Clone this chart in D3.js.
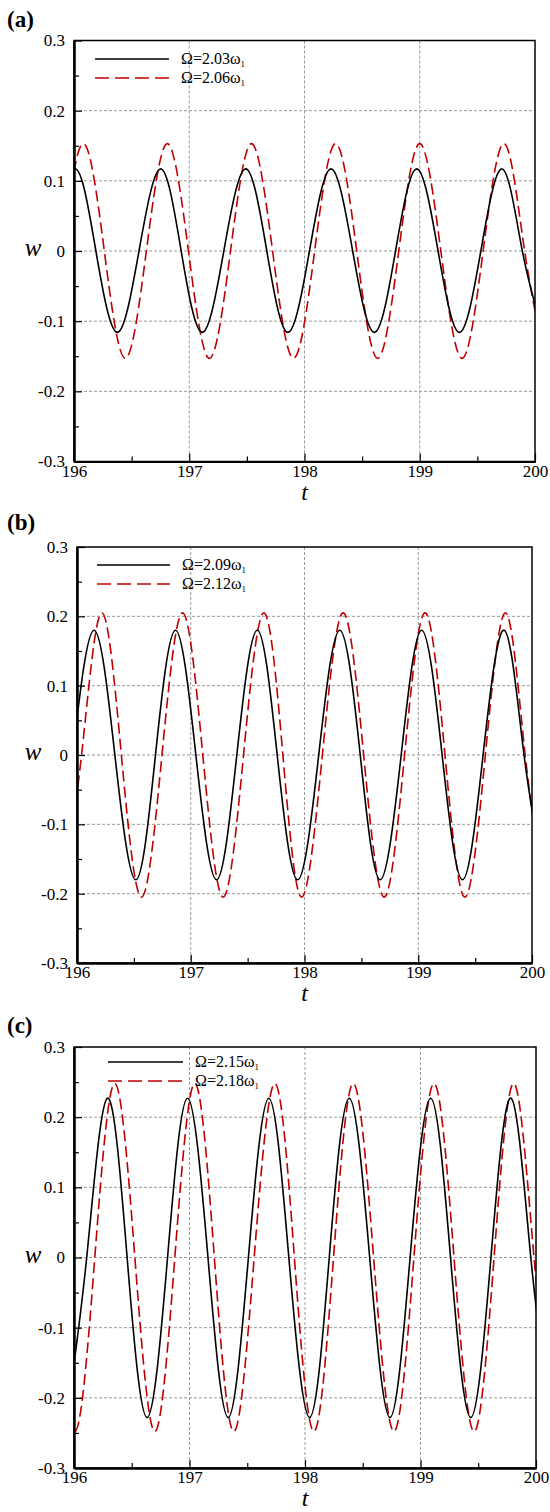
<!DOCTYPE html>
<html>
<head>
<meta charset="utf-8">
<script src="https://cdn.jsdelivr.net/npm/d3@7"></script>
<style>
  body { margin: 0; background: #fff; }
  svg { display: block; background: #fff; }
  text { font-family: 'Liberation Serif', 'Times New Roman', serif; fill: #000; }
</style>
</head>
<body>
<svg id="chart" width="550" height="1512"></svg>
<script>
'use strict';

// axis ticks shared by the three panels
const tTicks = [196, 197, 198, 199, 200];
const tMinor = [196.5, 197.5, 198.5, 199.5];
const wTicks = [-0.3, -0.2, -0.1, 0, 0.1, 0.2, 0.3];
const wMinor = [-0.25, -0.15, -0.05, 0.05, 0.15, 0.25];

// excitation frequencies (legend), solid then dashed
const omegaA = ['2.03', '2.06'];
const omegaB = ['2.09', '2.12'];
const omegaC = ['2.15', '2.18'];

// w(t): extrema and zero crossings, [t, w]
// (first and last point sit just outside 196..200, the frame clips them)
const blackA = [[195.826, 0], [196.011, 0.117], [196.19, 0], [196.376, -0.116], [196.564, 0], [196.752, 0.117],
  [196.93, 0], [197.113, -0.116], [197.30, 0], [197.49, 0.117], [197.673, 0], [197.856, -0.116],
  [198.043, 0], [198.23, 0.117], [198.418, 0], [198.606, -0.116], [198.79, 0], [198.974, 0.117],
  [199.159, 0], [199.344, -0.116], [199.53, 0], [199.716, 0.117], [199.89, 0], [200.07, -0.116]];
const redA = [[195.899, 0], [196.081, 0.153], [196.263, 0], [196.445, -0.153], [196.628, 0],
  [196.81, 0.153], [196.993, 0], [197.175, -0.153], [197.358, 0], [197.54, 0.153], [197.723, 0],
  [197.905, -0.153], [198.088, 0], [198.27, 0.153], [198.453, 0], [198.635, -0.153], [198.818, 0],
  [199.00, 0.153], [199.183, 0], [199.367, -0.153], [199.55, 0], [199.734, 0.153], [199.91, 0],
  [200.09, -0.153]];

const blackB = [[195.962, 0], [196.15, 0.18], [196.333, 0], [196.517, -0.18], [196.69, 0],
  [196.866, 0.18], [197.045, 0], [197.227, -0.18], [197.405, 0], [197.585, 0.18], [197.76, 0],
  [197.94, -0.18], [198.125, 0], [198.31, 0.18], [198.49, 0], [198.665, -0.18], [198.85, 0],
  [199.03, 0.18], [199.21, 0], [199.389, -0.18], [199.57, 0], [199.756, 0.18], [199.93, 0],
  [200.11, -0.18]];
const redB = [[195.86, -0.205], [196.04, 0], [196.215, 0.205], [196.39, 0], [196.567, -0.205],
  [196.747, 0], [196.928, 0.205], [197.106, 0], [197.285, -0.205], [197.464, 0], [197.643, 0.205],
  [197.81, 0], [197.975, -0.205], [198.157, 0], [198.34, 0.205], [198.52, 0], [198.70, -0.205],
  [198.88, 0], [199.06, 0.205], [199.235, 0], [199.41, -0.205], [199.59, 0], [199.77, 0.205],
  [199.94, 0], [200.12, -0.205]];

const blackC = [[195.935, -0.228], [196.11, 0], [196.289, 0.227], [196.46, 0], [196.633, -0.228],
  [196.81, 0], [196.983, 0.227], [197.16, 0], [197.335, -0.228], [197.51, 0], [197.687, 0.227],
  [197.86, 0], [198.04, -0.228], [198.21, 0], [198.383, 0.227], [198.56, 0], [198.736, -0.228],
  [198.91, 0], [199.088, 0.227], [199.26, 0], [199.435, -0.228], [199.61, 0], [199.784, 0.227],
  [199.955, 0], [200.125, -0.228]];
const redC = [[195.835, 0], [196.007, -0.248], [196.18, 0], [196.353, 0.248], [196.527, 0], [196.70, -0.248],
  [196.873, 0], [197.046, 0.248], [197.215, 0], [197.384, -0.248], [197.56, 0], [197.739, 0.248],
  [197.908, 0], [198.077, -0.248], [198.247, 0], [198.418, 0.248], [198.594, 0], [198.77, -0.248],
  [198.943, 0], [199.117, 0.248], [199.29, 0], [199.464, -0.248], [199.637, 0], [199.81, 0.248],
  [199.983, 0], [200.155, -0.248]];

// layout of each panel (pixel boxes) and its legend position
const panels = [
  { tag: '(a)', tagY: 27, box: [74, 40.5, 535, 461.5], legend: [95, 169, 59], omega: omegaA, series: [blackA, redA] },
  { tag: '(b)', tagY: 530, box: [77, 547, 532, 963], legend: [97, 170, 565], omega: omegaB, series: [blackB, redB] },
  { tag: '(c)', tagY: 1033, box: [74, 1047, 536, 1468], legend: [108, 183, 1062], omega: omegaC, series: [blackC, redC] }
];

const RED = '#c00000';
const GRID = '#999';

const svg = d3.select('#chart');

panels.forEach((p, i) => drawPanel(p, i));

function drawPanel(p, i) {
  const [x0, y0, x1, y1] = p.box;
  const x = d3.scaleLinear().domain([196, 200]).range([x0, x1]);
  const y = d3.scaleLinear().domain([-0.3, 0.3]).range([y1, y0]);
  const g = svg.append('g');

  // panel tag
  g.append('text')
    .attr('x', 7)
    .attr('y', p.tagY)
    .attr('font-size', 23)
    .attr('font-weight', 'bold')
    .text(p.tag);

  // dashed grid at the inner major ticks
  g.append('g')
    .selectAll('line')
    .data(tTicks.slice(1, -1))
    .join('line')
    .attr('x1', d => x(d)).attr('x2', d => x(d))
    .attr('y1', y0).attr('y2', y1)
    .attr('stroke', GRID).attr('stroke-width', 1).attr('stroke-dasharray', '3,2');
  g.append('g')
    .selectAll('line')
    .data(wTicks.slice(1, -1))
    .join('line')
    .attr('x1', x0).attr('x2', x1)
    .attr('y1', d => y(d)).attr('y2', d => y(d))
    .attr('stroke', GRID).attr('stroke-width', 1).attr('stroke-dasharray', '3,2');

  // curves, clipped to the frame
  const clipId = 'clip' + i;
  svg.append('clipPath').attr('id', clipId)
    .append('rect').attr('x', x0).attr('y', y0).attr('width', x1 - x0).attr('height', y1 - y0);

  const line = d3.line()
    .x(d => x(d[0]))
    .y(d => y(d[1]))
    .curve(d3.curveNatural);

  const curves = g.append('g').attr('clip-path', 'url(#' + clipId + ')');
  curves.append('path')
    .datum(p.series[1])
    .attr('d', line)
    .attr('fill', 'none')
    .attr('stroke', RED)
    .attr('stroke-width', 1.6)
    .attr('stroke-dasharray', '11,5');
  curves.append('path')
    .datum(p.series[0])
    .attr('d', line)
    .attr('fill', 'none')
    .attr('stroke', '#000')
    .attr('stroke-width', 1.6);

  // frame
  g.append('rect')
    .attr('x', x0).attr('y', y0)
    .attr('width', x1 - x0).attr('height', y1 - y0)
    .attr('fill', 'none').attr('stroke', '#000').attr('stroke-width', 1.5);

  // axes with inward ticks
  const fmt = d => (d === 0 ? '0' : String(d));
  const left = g.append('g')
    .attr('transform', 'translate(' + x0 + ',0)')
    .call(d3.axisLeft(y).tickValues(wTicks).tickSizeInner(-8).tickSizeOuter(0).tickPadding(9).tickFormat(fmt));
  g.append('g')
    .attr('transform', 'translate(' + x0 + ',0)')
    .call(d3.axisLeft(y).tickValues(wMinor).tickSizeInner(-5).tickSizeOuter(0).tickFormat(''));
  const bottom = g.append('g')
    .attr('transform', 'translate(0,' + y1 + ')')
    .call(d3.axisBottom(x).tickValues(tTicks).tickSizeInner(-8).tickSizeOuter(0).tickPadding(3).tickFormat(d3.format('d')));
  g.append('g')
    .attr('transform', 'translate(0,' + y1 + ')')
    .call(d3.axisBottom(x).tickValues(tMinor).tickSizeInner(-5).tickSizeOuter(0).tickFormat(''));

  g.selectAll('.domain').attr('stroke', '#000').attr('stroke-width', 2);
  g.selectAll('.tick line').attr('stroke', '#000').attr('stroke-width', 1.2);
  [left, bottom].forEach(a => a.attr('font-family', null).selectAll('text')
    .attr('font-size', 17)
    .attr('fill', '#000'));

  // axis titles
  g.append('text')
    .attr('x', (x0 + x1) / 2)
    .attr('y', y1 + 38)
    .attr('text-anchor', 'middle')
    .attr('font-size', 24)
    .attr('font-style', 'italic')
    .text('t');
  g.append('text')
    .attr('x', 33)
    .attr('y', (y0 + y1) / 2 + 5)
    .attr('text-anchor', 'middle')
    .attr('font-size', 25)
    .attr('font-style', 'italic')
    .text('w');

  // legend
  const [lx0, lx1, ly] = p.legend;
  const lg = g.append('g');
  p.omega.forEach((om, k) => {
    const yy = ly + k * 19;
    lg.append('line')
      .attr('x1', lx0).attr('x2', lx1)
      .attr('y1', yy).attr('y2', yy)
      .attr('stroke', k === 0 ? '#000' : RED)
      .attr('stroke-width', 1.6)
      .attr('stroke-dasharray', k === 0 ? null : '14,6');
    const txt = lg.append('text')
      .attr('x', lx1 + 12)
      .attr('y', yy + 5)
      .attr('font-size', 16);
    txt.append('tspan').text('\u03A9=' + om + '\u03C9');
    txt.append('tspan').attr('font-size', 9).attr('dy', 3).text('1');
  });
}
</script>
</body>
</html>
